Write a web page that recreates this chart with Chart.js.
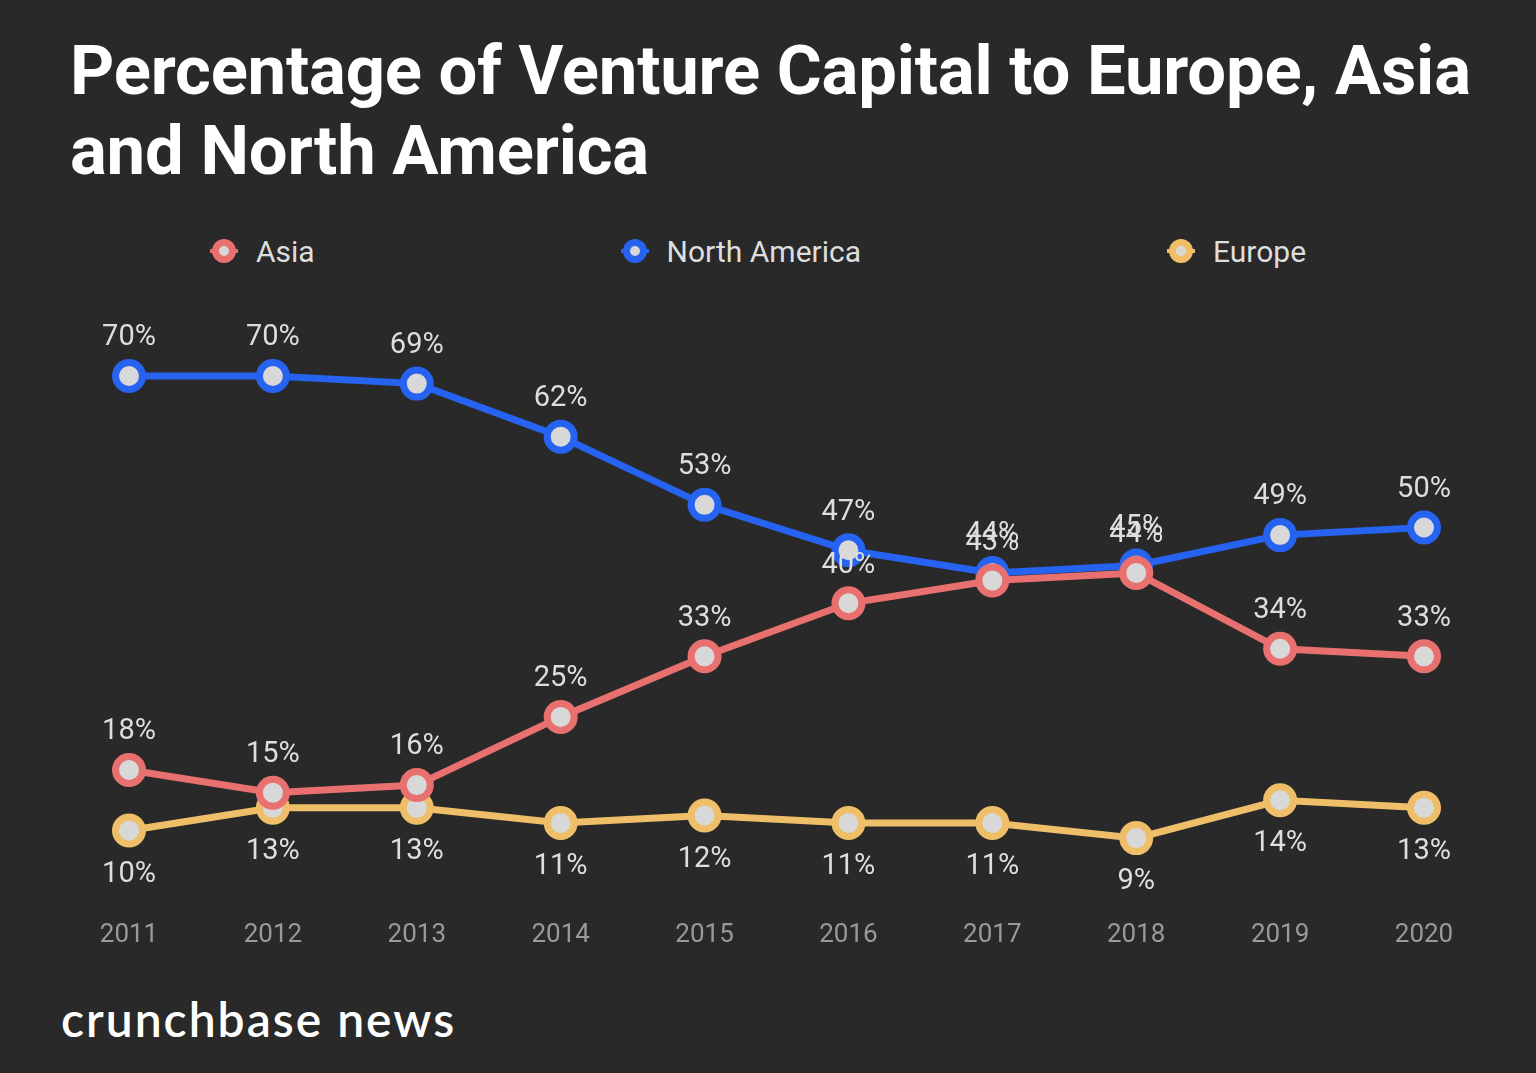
<!DOCTYPE html>
<html>
<head>
<meta charset="utf-8">
<script src="https://cdn.jsdelivr.net/npm/chart.js@4/dist/chart.umd.min.js"></script>
<style>
  html, body { margin: 0; padding: 0; background: #292929; }
  body { width: 1536px; height: 1073px; position: relative; overflow: hidden; }
  #title {
    position: absolute; left: 70px; top: 31px; width: 1450px;
    font-family: Roboto, sans-serif; font-weight: 700; font-size: 68.8px;
    line-height: 80px; color: #ffffff; letter-spacing: -0.2px;
  }
  #legend {
    position: absolute; left: 0; top: 231px; width: 1516px; height: 40px;
    display: flex; justify-content: center; align-items: center; gap: 306px;
    font-family: Roboto, sans-serif; font-size: 30px; color: #dedede;
  }
  .item { display: flex; align-items: center; white-space: nowrap; }
  .marker { position: relative; width: 28px; height: 4px; margin-right: 18px; }
  .marker span {
    position: absolute; left: 2px; top: -10px; width: 10px; height: 10px;
    border-radius: 50%; border: 7px solid; background: #d8d8d8;
  }
  #chartBox { position: absolute; left: 0; top: 200px; width: 1536px; height: 780px; }
  #brand {
    position: absolute; left: 61px; top: 990px;
    font-family: Lato, sans-serif; font-weight: 600; font-size: 48px;
    color: #ffffff; letter-spacing: 2px;
  }
</style>
</head>
<body>
<div id="title">Percentage of Venture Capital to Europe, Asia and North America</div>
<div id="legend"></div>
<div id="chartBox"><canvas id="lineChart" width="1536" height="780"></canvas></div>
<div id="brand">crunchbase news</div>
<script>
const years = ['2011', '2012', '2013', '2014', '2015', '2016', '2017', '2018', '2019', '2020'];
const asia = [18, 15, 16, 25, 33, 40, 43, 44, 34, 33];
const northAmerica = [70, 70, 69, 62, 53, 47, 44, 45, 49, 50];
const europe = [10, 13, 13, 11, 12, 11, 11, 9, 14, 13];

// label offset from the point: above for Asia / North America, below for Europe
const labelOffset = [-38, -38, 44];

const valueLabels = {
    id: 'valueLabels',
    afterDatasetsDraw(chart) {
        const ctx = chart.ctx;
        ctx.save();
        ctx.font = '29px Roboto, sans-serif';
        ctx.fillStyle = '#dedede';
        ctx.textAlign = 'center';
        ctx.textBaseline = 'middle';
        chart.data.datasets.forEach((ds, i) => {
            const meta = chart.getDatasetMeta(i);
            meta.data.forEach((pt, j) => {
                ctx.fillText(ds.data[j] + '%', pt.x, pt.y + labelOffset[i]);
            });
        });
        ctx.restore();
    }
};

function series(label, data, color) {
    return {
        label: label,
        data: data,
        borderColor: color,
        backgroundColor: '#d8d8d8',
        borderWidth: 7,
        pointRadius: 13.5,
        pointHoverRadius: 13.5,
        pointBorderWidth: 7,
        pointBorderColor: color,
        pointBackgroundColor: '#d8d8d8',
        tension: 0
    };
}

var ctx = document.getElementById('lineChart').getContext('2d');
var myLineChart = new Chart(ctx, {
    type: 'line',
    data: {
        labels: years,
        datasets: [
            series('Asia', asia, '#e8716f'),
            series('North America', northAmerica, '#2563f0'),
            series('Europe', europe, '#efbe68')
        ]
    },
    options: {
        responsive: false,
        animation: false,
        layout: { padding: { left: 129, right: 112, top: 96.5, bottom: 23.5 } },
        plugins: {
            tooltip: { enabled: false },
            legend: { display: false }
        },
        scales: {
            x: {
                offset: false,
                grid: { display: false },
                border: { display: false },
                ticks: {
                    color: '#9a9a9a',
                    padding: 5.5,
                    font: { family: 'Roboto, sans-serif', size: 26 }
                }
            },
            y: {
                display: false,
                min: 0,
                max: 80.5
            }
        }
    },
    plugins: [valueLabels]
});

// legend built from the chart's datasets
const legendBox = document.getElementById('legend');
myLineChart.data.datasets.forEach(ds => {
    const item = document.createElement('div');
    item.className = 'item';
    const marker = document.createElement('div');
    marker.className = 'marker';
    marker.style.background = ds.borderColor;
    const dot = document.createElement('span');
    dot.style.borderColor = ds.borderColor;
    marker.appendChild(dot);
    item.appendChild(marker);
    item.appendChild(document.createTextNode(ds.label));
    legendBox.appendChild(item);
});
</script>
</body>
</html>
